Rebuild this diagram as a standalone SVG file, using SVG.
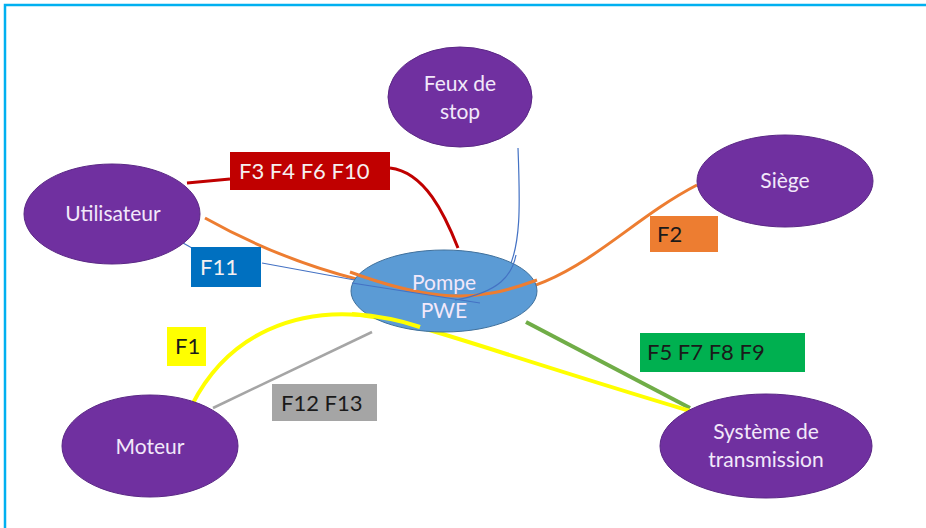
<svg xmlns="http://www.w3.org/2000/svg" width="926" height="528" viewBox="0 0 926 528">
<style>
.node{fill:#7030A0;stroke:#5A2785;stroke-width:1}
.pump{fill:#5B9BD5;stroke:#41719C;stroke-width:1}
.nt{font-family:"Lato","Open Sans",sans-serif;font-size:21px;fill:#F2E8FA;text-anchor:middle}
.lt{font-family:"Lato","Open Sans",sans-serif;font-size:22px;text-anchor:start}
.dark{fill:#1A1A1A}
.light{fill:#F5F0F0}
.c{fill:none}
</style>
<rect x="0" y="0" width="926" height="528" fill="#FFFFFF"/>
<path d="M5 528 V5 H926" fill="none" stroke="#00B0F0" stroke-width="2.5"/>
<g id="connectors">
<path class="c" d="M187 183 L230 179" stroke="#C00000" stroke-width="3"/>
<path class="c" d="M390 168 C425 172 445 215 458 248" stroke="#C00000" stroke-width="3"/>
<path class="c" d="M205 218 C280 260 360 285 440 295 C560 310 610 230 697 185" stroke="#ED7D31" stroke-width="3"/>
<path class="c" d="M518 148 C520 200 522 250 505 275 C495 290 475 298 455 300" stroke="#4472C4" stroke-width="1.2"/>
<path class="c" d="M183 243 L192 248" stroke="#4472C4" stroke-width="1.2"/>
<path class="c" d="M262 263 L480 303" stroke="#4472C4" stroke-width="1.2"/>
<path class="c" d="M213 408 L372 332" stroke="#A5A5A5" stroke-width="2.5"/>
<path class="c" d="M526 322 L690 408" stroke="#70AD47" stroke-width="4"/>
<path class="c" d="M192 405 C230 330 300 310 360 315 C420 322 470 345 690 411" stroke="#FFFF00" stroke-width="4"/>
</g>
<g id="pompe">
<ellipse class="pump" cx="444" cy="291" rx="93" ry="41"/>
<path class="c" d="M350 272 C380 283 410 292 440 295 C480 299 510 290 537 280" stroke="#ED7D31" stroke-width="3"/>
<path class="c" d="M352 283 L480 303" stroke="#4472C4" stroke-width="1.2"/>
<path class="c" d="M516 255 C512 275 500 292 455 300" stroke="#4472C4" stroke-width="1.2"/>
<path class="c" d="M352 314 C380 316 400 320 420 327" stroke="#FFFF00" stroke-width="4"/>
<text class="nt" x="444" y="290">Pompe</text>
<text class="nt" x="444" y="318">PWE</text>
</g>
<g id="feux">
<ellipse class="node" cx="460" cy="97" rx="72" ry="50"/>
<text class="nt" x="460" y="91">Feux de</text>
<text class="nt" x="460" y="119">stop</text>
</g>
<g id="utilisateur">
<ellipse class="node" cx="112" cy="214" rx="88" ry="50"/>
<text class="nt" x="113" y="221">Utilisateur</text>
</g>
<g id="siege">
<ellipse class="node" cx="785" cy="181" rx="88" ry="46"/>
<text class="nt" x="785" y="188">Siège</text>
</g>
<g id="moteur">
<ellipse class="node" cx="150" cy="446" rx="88" ry="51"/>
<text class="nt" x="150" y="454">Moteur</text>
</g>
<g id="systeme">
<ellipse class="node" cx="766" cy="446" rx="106" ry="52"/>
<text class="nt" x="766" y="439">Système de</text>
<text class="nt" x="766" y="467">transmission</text>
</g>
<g id="labels">
<rect x="230" y="152" width="160" height="38" fill="#C00000"/>
<text class="lt light" x="239" y="179">F3 F4 F6 F10</text>
<rect x="191" y="247" width="70" height="40" fill="#0070C0"/>
<text class="lt light" x="200" y="275">F11</text>
<rect x="650" y="216" width="68" height="36" fill="#ED7D31"/>
<text class="lt dark" x="657" y="242">F2</text>
<rect x="167" y="327" width="39" height="39" fill="#FFFF00"/>
<text class="lt dark" x="175" y="354">F1</text>
<rect x="272" y="384" width="105" height="37" fill="#A5A5A5"/>
<text class="lt dark" x="281" y="411">F12 F13</text>
<rect x="640" y="333" width="165" height="39" fill="#00B050"/>
<text class="lt dark" x="647" y="360">F5 F7 F8 F9</text>
</g>
</svg>
